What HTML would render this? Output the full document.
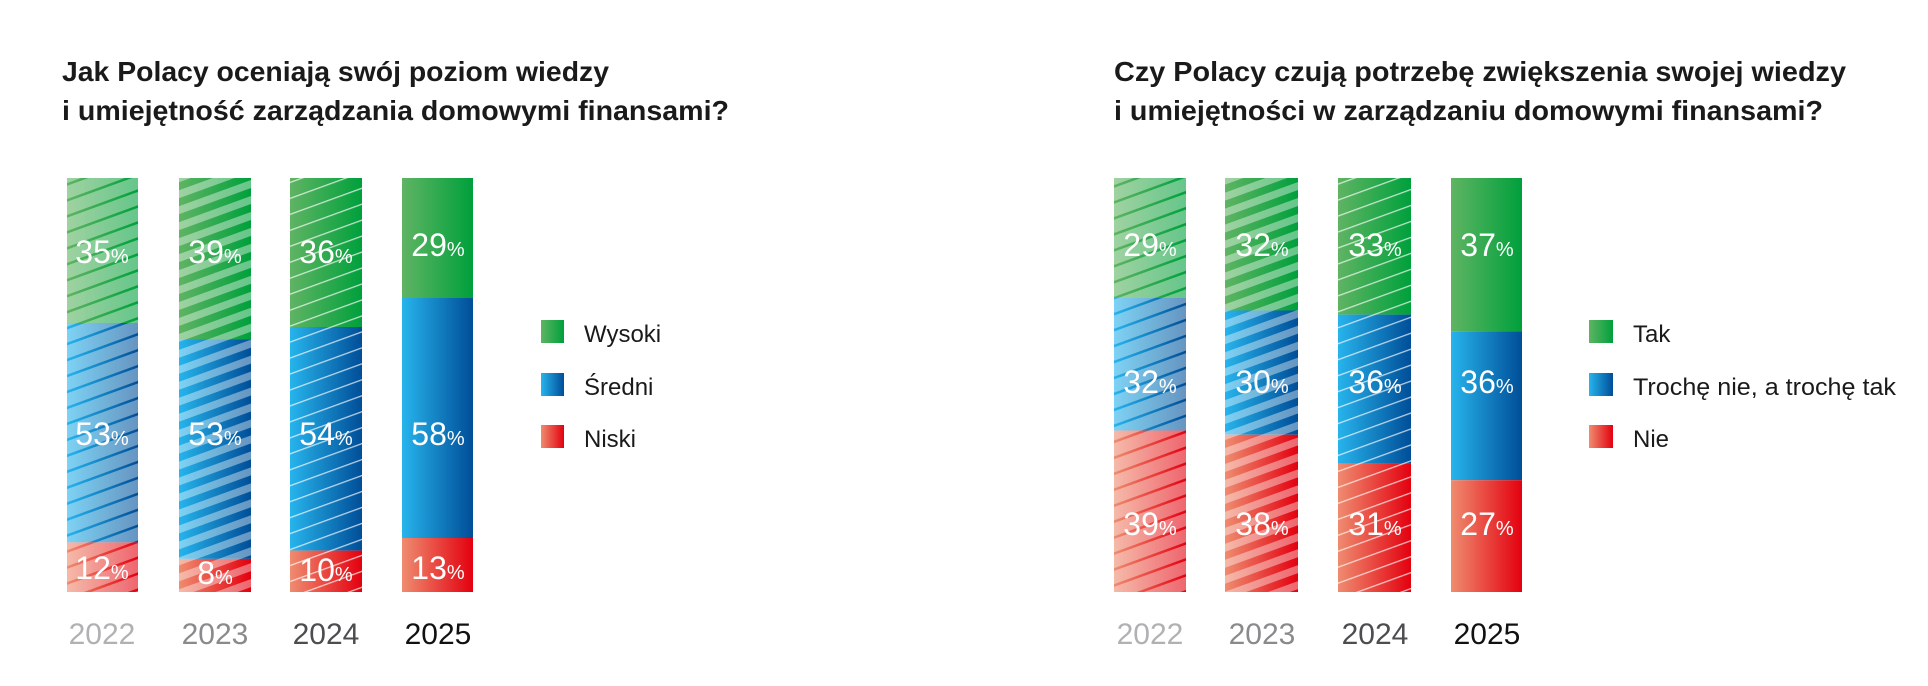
<!DOCTYPE html>
<html><head><meta charset="utf-8"><style>html,body{margin:0;padding:0;background:#fff}svg{display:block}</style></head>
<body>
<svg width="1928" height="686" viewBox="0 0 1928 686" xmlns="http://www.w3.org/2000/svg" font-family="'Liberation Sans', sans-serif">
<defs>
<linearGradient id="gG" x1="0" x2="1" y1="0" y2="0"><stop offset="0" stop-color="#5fb463"/><stop offset="1" stop-color="#00a03c"/></linearGradient>
<linearGradient id="gB" x1="0" x2="1" y1="0" y2="0"><stop offset="0" stop-color="#27b4ec"/><stop offset="1" stop-color="#004e98"/></linearGradient>
<linearGradient id="gR" x1="0" x2="1" y1="0" y2="0"><stop offset="0" stop-color="#ef8c70"/><stop offset="1" stop-color="#e3000f"/></linearGradient>
<pattern id="pThin" width="20" height="15" patternUnits="userSpaceOnUse" patternTransform="rotate(-20)"><rect x="0" y="0" width="20" height="1.3" fill="#fff" fill-opacity="0.7"/></pattern>
<pattern id="pWide" width="20" height="15" patternUnits="userSpaceOnUse" patternTransform="rotate(-20)"><rect x="0" y="0" width="20" height="7.5" fill="#fff" fill-opacity="0.4"/></pattern>
<pattern id="pLight" width="20" height="15" patternUnits="userSpaceOnUse" patternTransform="rotate(-20)"><rect x="0" y="2.5" width="20" height="12.5" fill="#fff" fill-opacity="0.4"/></pattern>
</defs>

<g font-weight="bold" font-size="28" fill="#1a1a1a">
<text x="62" y="81" textLength="547" lengthAdjust="spacingAndGlyphs">Jak Polacy oceniają swój poziom wiedzy</text>
<text x="62" y="120" textLength="667" lengthAdjust="spacingAndGlyphs">i umiejętność zarządzania domowymi finansami?</text>
<text x="1114" y="81" textLength="732" lengthAdjust="spacingAndGlyphs">Czy Polacy czują potrzebę zwiększenia swojej wiedzy</text>
<text x="1114" y="120" textLength="709" lengthAdjust="spacingAndGlyphs">i umiejętności w zarządzaniu domowymi finansami?</text>
</g>

<rect x="67" y="178" width="71" height="145" fill="url(#gG)"/>
<rect x="67" y="323" width="71" height="219.4" fill="url(#gB)"/>
<rect x="67" y="542.4" width="71" height="49.6" fill="url(#gR)"/>
<rect x="67" y="178" width="71" height="414" fill="url(#pLight)"/>
<rect x="179" y="178" width="72" height="161.5" fill="url(#gG)"/>
<rect x="179" y="339.5" width="72" height="219.4" fill="url(#gB)"/>
<rect x="179" y="558.9" width="72" height="33.1" fill="url(#gR)"/>
<rect x="179" y="178" width="72" height="414" fill="url(#pWide)"/>
<rect x="290" y="178" width="72" height="149" fill="url(#gG)"/>
<rect x="290" y="327" width="72" height="223.6" fill="url(#gB)"/>
<rect x="290" y="550.6" width="72" height="41.4" fill="url(#gR)"/>
<rect x="290" y="178" width="72" height="414" fill="url(#pThin)"/>
<rect x="402" y="178" width="71" height="120" fill="url(#gG)"/>
<rect x="402" y="298" width="71" height="240" fill="url(#gB)"/>
<rect x="402" y="538" width="71" height="54" fill="url(#gR)"/>

<g fill="#fff" font-size="32" text-anchor="middle">
<text x="102" y="263">35<tspan font-size="20">%</tspan></text>
<text x="102" y="445">53<tspan font-size="20">%</tspan></text>
<text x="102" y="579">12<tspan font-size="20">%</tspan></text>
<text x="215" y="263">39<tspan font-size="20">%</tspan></text>
<text x="215" y="445">53<tspan font-size="20">%</tspan></text>
<text x="215" y="584">8<tspan font-size="20">%</tspan></text>
<text x="326" y="263">36<tspan font-size="20">%</tspan></text>
<text x="326" y="445">54<tspan font-size="20">%</tspan></text>
<text x="326" y="581">10<tspan font-size="20">%</tspan></text>
<text x="438" y="256">29<tspan font-size="20">%</tspan></text>
<text x="438" y="445">58<tspan font-size="20">%</tspan></text>
<text x="438" y="579">13<tspan font-size="20">%</tspan></text>
</g>

<g font-size="30" text-anchor="middle">
<text x="102" y="644" fill="#b1b1b3">2022</text>
<text x="215" y="644" fill="#8a8a8c">2023</text>
<text x="326" y="644" fill="#4d4d4f">2024</text>
<text x="438" y="644" fill="#111">2025</text>
</g>

<rect x="541" y="320" width="23" height="23" fill="url(#gG)"/>
<rect x="541" y="373" width="23" height="23" fill="url(#gB)"/>
<rect x="541" y="425" width="23" height="23" fill="url(#gR)"/>
<g font-size="24" fill="#1a1a1a">
<text x="584" y="342">Wysoki</text>
<text x="584" y="395">Średni</text>
<text x="584" y="447">Niski</text>
</g>

<rect x="1114" y="178" width="72" height="120" fill="url(#gG)"/>
<rect x="1114" y="298" width="72" height="132.5" fill="url(#gB)"/>
<rect x="1114" y="430.5" width="72" height="161.5" fill="url(#gR)"/>
<rect x="1114" y="178" width="72" height="414" fill="url(#pLight)"/>
<rect x="1225" y="178" width="73" height="132.5" fill="url(#gG)"/>
<rect x="1225" y="310.5" width="73" height="124.2" fill="url(#gB)"/>
<rect x="1225" y="434.7" width="73" height="157.3" fill="url(#gR)"/>
<rect x="1225" y="178" width="73" height="414" fill="url(#pWide)"/>
<rect x="1338" y="178" width="73" height="136.6" fill="url(#gG)"/>
<rect x="1338" y="314.6" width="73" height="149" fill="url(#gB)"/>
<rect x="1338" y="463.6" width="73" height="128.4" fill="url(#gR)"/>
<rect x="1338" y="178" width="73" height="414" fill="url(#pThin)"/>
<rect x="1451" y="178" width="71" height="153.2" fill="url(#gG)"/>
<rect x="1451" y="331.2" width="71" height="149" fill="url(#gB)"/>
<rect x="1451" y="480.2" width="71" height="111.8" fill="url(#gR)"/>

<g fill="#fff" font-size="32" text-anchor="middle">
<text x="1150" y="256">29<tspan font-size="20">%</tspan></text>
<text x="1150" y="393">32<tspan font-size="20">%</tspan></text>
<text x="1150" y="535">39<tspan font-size="20">%</tspan></text>
<text x="1262" y="256">32<tspan font-size="20">%</tspan></text>
<text x="1262" y="393">30<tspan font-size="20">%</tspan></text>
<text x="1262" y="535">38<tspan font-size="20">%</tspan></text>
<text x="1375" y="256">33<tspan font-size="20">%</tspan></text>
<text x="1375" y="393">36<tspan font-size="20">%</tspan></text>
<text x="1375" y="535">31<tspan font-size="20">%</tspan></text>
<text x="1487" y="256">37<tspan font-size="20">%</tspan></text>
<text x="1487" y="393">36<tspan font-size="20">%</tspan></text>
<text x="1487" y="535">27<tspan font-size="20">%</tspan></text>
</g>

<g font-size="30" text-anchor="middle">
<text x="1150" y="644" fill="#b1b1b3">2022</text>
<text x="1262" y="644" fill="#8a8a8c">2023</text>
<text x="1375" y="644" fill="#4d4d4f">2024</text>
<text x="1487" y="644" fill="#111">2025</text>
</g>

<rect x="1589" y="320" width="24" height="23" fill="url(#gG)"/>
<rect x="1589" y="373" width="24" height="23" fill="url(#gB)"/>
<rect x="1589" y="425" width="24" height="23" fill="url(#gR)"/>
<g font-size="24" fill="#1a1a1a">
<text x="1633" y="342">Tak</text>
<text x="1633" y="395" textLength="263" lengthAdjust="spacingAndGlyphs">Trochę nie, a trochę tak</text>
<text x="1633" y="447">Nie</text>
</g>
</svg>
</body></html>
